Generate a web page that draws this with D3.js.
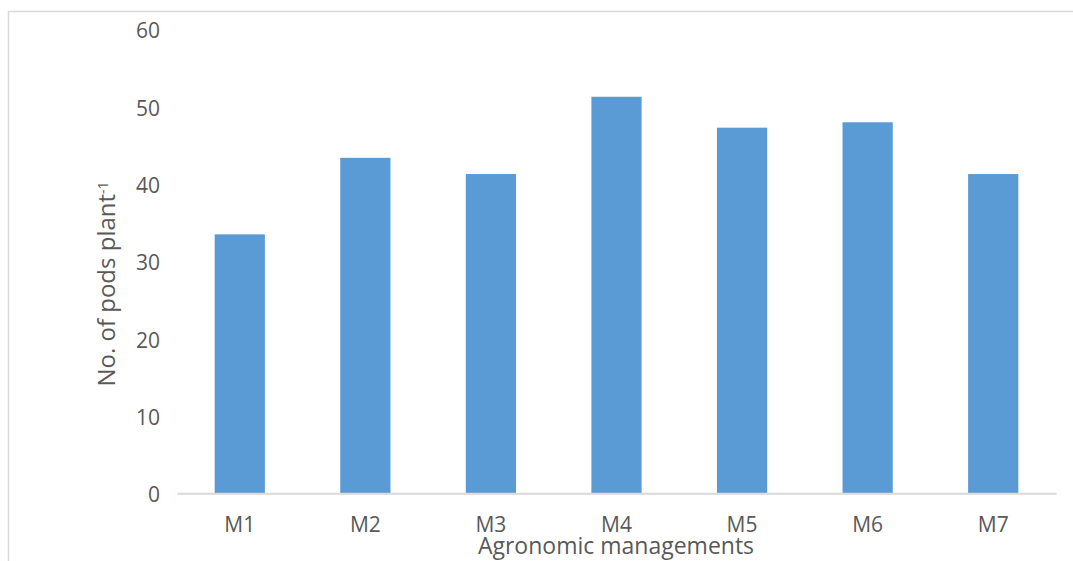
<!DOCTYPE html>
<html>
<head>
<meta charset="utf-8">
<script src="https://cdn.jsdelivr.net/npm/d3@7"></script>
<style>
  html, body { margin: 0; padding: 0; background: #ffffff; }
  svg { display: block; font-family: "Open Sans", "Noto Sans", sans-serif; }
  .tick text { font-family: "Open Sans", "Noto Sans", sans-serif; }
</style>
</head>
<body>
<svg id="chart" width="1073" height="561"></svg>
<script>
// Number of pods per plant under each agronomic management
const categories = ["M1", "M2", "M3", "M4", "M5", "M6", "M7"];
const podsPerPlant = [33.5, 43.4, 41.3, 51.3, 47.3, 48.0, 41.3];
const yTicks = [0, 10, 20, 30, 40, 50, 60];

const svg = d3.select("#chart");
const W = 1073, H = 561;
const margin = { left: 177, right: 17, top: 29.5, bottom: 67.7 };
const plotW = W - margin.left - margin.right;
const plotH = H - margin.top - margin.bottom;

// chart area frame (left and top edges visible)
svg.append("path")
  .attr("d", `M8.5,${H} L8.5,11.5 L${W},11.5`)
  .attr("fill", "none")
  .attr("stroke", "#d9d9d9")
  .attr("stroke-width", 1.5);

const g = svg.append("g").attr("transform", `translate(${margin.left},${margin.top})`);

const x = d3.scaleBand().domain(categories).range([0, plotW]).paddingInner(0.6).paddingOuter(0.3);
const y = d3.scaleLinear().domain([0, 60]).range([plotH, 0]);

// bars
g.selectAll("rect.bar")
  .data(categories.map((c, i) => ({ c, v: podsPerPlant[i] })))
  .join("rect")
  .attr("class", "bar")
  .attr("x", d => x(d.c))
  .attr("y", d => y(d.v))
  .attr("width", x.bandwidth())
  .attr("height", d => y(0) - y(d.v))
  .attr("fill", "#5b9bd5");

// x axis line and category labels
const xAxis = g.append("g")
  .attr("transform", `translate(0,${plotH})`)
  .call(d3.axisBottom(x).tickSize(0).tickPadding(31));
xAxis.attr("font-family", null).attr("font-size", null);
xAxis.select(".domain").attr("stroke", "#d9d9d9").attr("stroke-width", 2);
xAxis.selectAll("text")
  .attr("fill", "#595959")
  .attr("dy", "0.36em")
  .style("font-size", "21px");

// y axis labels (no line)
const yAxis = g.append("g")
  .call(d3.axisLeft(y).tickValues(yTicks).tickSize(0).tickPadding(17));
yAxis.attr("font-family", null).attr("font-size", null);
yAxis.select(".domain").remove();
yAxis.selectAll("text")
  .attr("fill", "#595959")
  .attr("dy", "0.4em")
  .style("font-size", "21px");

// axis titles
svg.append("text")
  .attr("x", 616)
  .attr("y", 554)
  .attr("text-anchor", "middle")
  .attr("fill", "#595959")
  .style("font-size", "23px")
  .text("Agronomic managements");

const yTitle = svg.append("text")
  .attr("transform", "translate(115,284) rotate(-90)")
  .attr("text-anchor", "middle")
  .attr("fill", "#595959")
  .style("font-size", "24px");
yTitle.append("tspan").text("No. of pods plant");
yTitle.append("tspan").attr("dy", "-0.5em").style("font-size", "14px").text("-1");
</script>
</body>
</html>
